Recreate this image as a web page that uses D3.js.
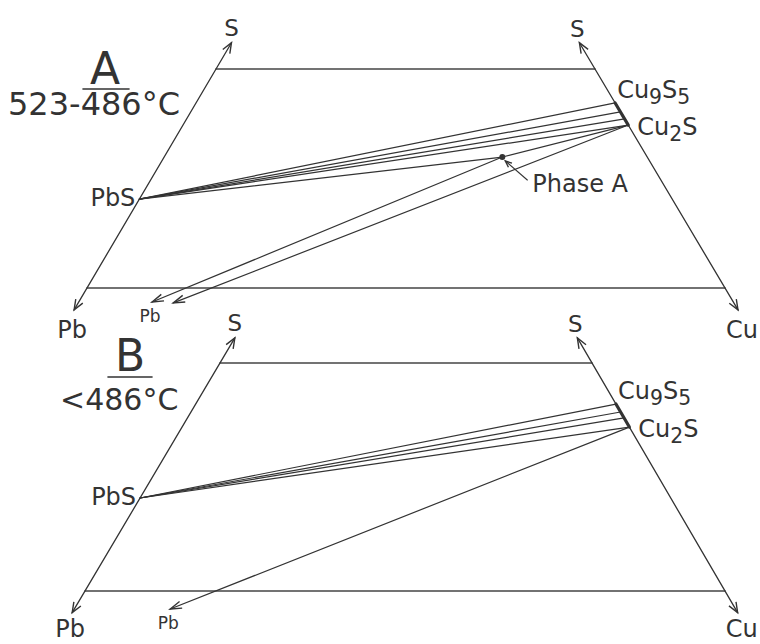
<!DOCTYPE html>
<html><head><meta charset="utf-8">
<script src="https://cdn.jsdelivr.net/npm/d3@7"></script>
<style>body{margin:0;background:#fff} svg{display:block}</style>
</head><body><svg id="c" width="760" height="644"></svg>
<script>
// ---------------- data ----------------
// Diagram coordinates: level = 0 on the lower cut line, 100 on the upper cut line;
// across = 0 on the Pb–S edge, 100 on the Cu–S edge.
const panelIds = ["A", "B"];
const panelLetters = ["A", "B"];
const panelTemps = ["523-486°C", "<486°C"];
const edgeTopLevel = [112, 111];      // S arrow tips
const edgeBottomLevel = [-10, -9.5];  // Pb / Cu arrow tips

const phaseNames = ["PbS", "Cu9S5", "Cu2S", "Phase A"];
const phaseLevelA = [40.6, 84.5, 74.4, 59.8];
const phaseAcrossA = [0, 100, 100, 70];
const phaseLevelB = [40.8, 82.0, 71.9, null];
const phaseAcrossB = [0, 100, 100, null];

// tie lines from PbS to the Cu9S5–Cu2S range on the Cu–S edge (levels)
const tieLevelsA = [84.5, 80.4, 77.2, 74.4];
const tieLevelsB = [82.0, 78.5, 75.9, 71.9];

// tie lines between two phases
const phaseTiesA = [["PbS", "Phase A"], ["Phase A", "Cu2S"]];
const phaseTiesB = [];

// tie lines from a phase toward Pb (arrow end as level / across)
const pbTieFromA = ["Phase A", "Cu2S"];
const pbTieLevelA = [-6.4, -6.8];
const pbTieAcrossA = [11.2, 14.5];
const pbTieFromB = ["Cu2S"];
const pbTieLevelB = [-7.9];
const pbTieAcrossB = [14.5];

// ---------------- layout / style ----------------
const layout = {
  A: { y: [288, 69], left: [87, 216], right: [725, 595], cornerDy: 28 },
  B: { y: [591, 363], left: [85, 220], right: [725, 592], cornerDy: 24 }
};
const titlePos = {
  A: { letter: [105, 84], bar: [83, 129, 89], temp: [8, 115], tempSize: 32 },
  B: { letter: [130, 371], bar: [108, 152, 377], temp: [60, 410], tempSize: 30 }
};
const font = "'DejaVu Sans', 'Liberation Sans', sans-serif";
const ink = "#333";

const svg = d3.select("#c");

function arrowHead(g, from, to, len = 11, half = 0.38) {
  const a = Math.atan2(to[1] - from[1], to[0] - from[0]);
  const p1 = [to[0] - len * Math.cos(a - half), to[1] - len * Math.sin(a - half)];
  const p2 = [to[0] - len * Math.cos(a + half), to[1] - len * Math.sin(a + half)];
  g.append("path")
    .attr("d", d3.line()([p1, to, p2]))
    .attr("fill", "none").attr("stroke", ink).attr("stroke-width", 1.4)
    .attr("stroke-linejoin", "miter");
}

function seg(g, a, b, w = 1.3, col = ink) {
  g.append("line")
    .attr("x1", a[0]).attr("y1", a[1]).attr("x2", b[0]).attr("y2", b[1])
    .attr("stroke", col).attr("stroke-width", w).attr("stroke-linecap", "round");
}

function text(g, str, x, y, size, anchor = "middle") {
  return g.append("text").attr("x", x).attr("y", y)
    .attr("font-family", font).attr("font-size", size)
    .attr("fill", ink).attr("text-anchor", anchor).text(str);
}

function chemLabel(g, parts, x, y, size) {
  const t = g.append("text").attr("x", x).attr("y", y)
    .attr("font-family", font).attr("font-size", size).attr("fill", ink);
  let sub = false;
  parts.forEach(([s, isSub]) => {
    const ts = t.append("tspan").text(s);
    if (isSub && !sub) ts.attr("dy", 6).attr("font-size", size * 0.85);
    if (!isSub && sub) ts.attr("dy", -6);
    if (isSub && sub) ts.attr("font-size", size * 0.85);
    sub = isSub;
  });
  return t;
}

const formula = {
  "PbS": [["PbS", false]],
  "Cu9S5": [["Cu", false], ["9", true], ["S", false], ["5", true]],
  "Cu2S": [["Cu", false], ["2", true], ["S", false]],
  "Phase A": [["Phase A", false]]
};

panelIds.forEach((id, i) => {
  const L = layout[id];
  const y = d3.scaleLinear().domain([0, 100]).range(L.y);
  const xl = d3.scaleLinear().domain([0, 100]).range(L.left);
  const xr = d3.scaleLinear().domain([0, 100]).range(L.right);
  const pos = (s, c) => [d3.scaleLinear().domain([0, 100]).range([xl(s), xr(s)])(c), y(s)];

  const lev = id === "A" ? phaseLevelA : phaseLevelB;
  const acr = id === "A" ? phaseAcrossA : phaseAcrossB;
  const ph = name => { const k = phaseNames.indexOf(name); return pos(lev[k], acr[k]); };
  const g = svg.append("g").attr("class", "panel-" + id);

  // cut lines (upper and lower)
  [0, 100].forEach(s => seg(g, pos(s, 0), pos(s, 100), 1.6, "#444"));

  // Pb–S and Cu–S edges with arrows at both ends
  const top = edgeTopLevel[i], bot = edgeBottomLevel[i];
  [0, 100].forEach(c => {
    const a = pos(bot, c), b = pos(top, c);
    seg(g, a, b, 1.3);
    arrowHead(g, a, b);
    arrowHead(g, b, a);
  });

  // Cu9S5 – Cu2S range on the Cu–S edge (thick)
  seg(g, ph("Cu9S5"), ph("Cu2S"), 3.2);

  // PbS tie lines fan
  const tl = id === "A" ? tieLevelsA : tieLevelsB;
  tl.forEach(s => seg(g, ph("PbS"), pos(s, 100), 1.2));

  // phase-to-phase tie lines
  (id === "A" ? phaseTiesA : phaseTiesB).forEach(([a, b]) => seg(g, ph(a), ph(b), 1.2));

  // tie lines toward Pb
  const pf = id === "A" ? pbTieFromA : pbTieFromB;
  const pl = id === "A" ? pbTieLevelA : pbTieLevelB;
  const pa = id === "A" ? pbTieAcrossA : pbTieAcrossB;
  pf.forEach((name, k) => {
    const a = ph(name), b = pos(pl[k], pa[k]);
    seg(g, a, b, 1.2);
    arrowHead(g, a, b, 12, 0.3);
  });

  // Phase A marker and leader
  if (acr[3] != null) {
    const p = ph("Phase A");
    g.append("circle").attr("cx", p[0]).attr("cy", p[1]).attr("r", 3).attr("fill", ink);
    const from = [p[0] + 25, p[1] + 23], to = [p[0] + 3, p[1] + 4];
    seg(g, from, to, 1.1);
    arrowHead(g, from, to, 7, 0.4);
    chemLabel(g, formula["Phase A"], p[0] + 30, p[1] + 35, 24);
  }

  // phase labels
  const pbs = ph("PbS");
  text(g, "PbS", pbs[0] - 4, pbs[1] + 7, 24, "end");
  const c9 = ph("Cu9S5");
  chemLabel(g, formula["Cu9S5"], c9[0] + 2, c9[1] - 5, 24);
  const c2 = ph("Cu2S");
  chemLabel(g, formula["Cu2S"], c2[0] + 9, c2[1] + 10, 24);

  // corner labels
  const sl = pos(top, 0), sr = pos(top, 100), pb = pos(bot, 0), cu = pos(bot, 100);
  text(g, "S", sl[0], sl[1] - 7, 23);
  text(g, "S", sr[0] - 2, sr[1] - 6, 23);
  text(g, "Pb", pb[0] - 2, pb[1] + L.cornerDy, 24);
  text(g, "Cu", cu[0] + 4, cu[1] + L.cornerDy, 24);

  // small Pb labels at the tie-line arrow ends
  const pbEnd = pos(pl[0], pa[0]);
  text(g, "Pb", pbEnd[0] - 2, pbEnd[1] + 20, 17);

  // panel title
  const T = titlePos[id];
  text(g, panelLetters[i], T.letter[0], T.letter[1], 44);
  seg(g, [T.bar[0], T.bar[2]], [T.bar[1], T.bar[2]], 1.6);
  text(g, panelTemps[i], T.temp[0], T.temp[1], T.tempSize, "start");
});
</script>
</body></html>
